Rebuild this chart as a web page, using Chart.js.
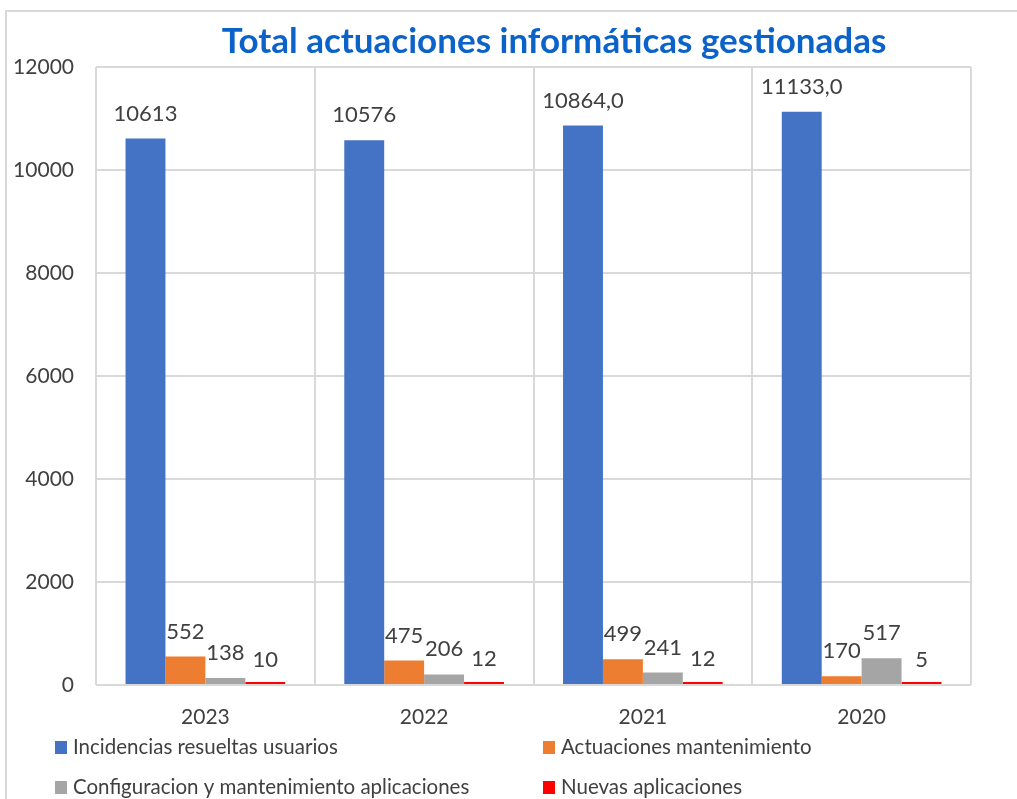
<!DOCTYPE html>
<html><head><meta charset="utf-8">
<script src="https://cdn.jsdelivr.net/npm/chart.js@4.4.1/dist/chart.umd.min.js"></script>
<style>html,body{margin:0;padding:0;background:#fff;overflow:hidden}</style>
</head><body>
<canvas id="c" width="1017" height="799"></canvas>
<script>
const categories = ["2023", "2022", "2021", "2020"];
const seriesNames = ["Incidencias resueltas usuarios", "Actuaciones mantenimiento", "Configuracion y mantenimiento aplicaciones", "Nuevas aplicaciones"];
const incidencias = [10613, 10576, 10864, 11133];
const actuaciones = [552, 475, 499, 170];
const configuracion = [138, 206, 241, 517];
const nuevas = [10, 12, 12, 5];
const incidenciasLabels = ["10613", "10576", "10864,0", "11133,0"];
const yTicks = [0, 2000, 4000, 6000, 8000, 10000, 12000];
const titleText = "Total actuaciones informáticas gestionadas";

const FONT = "Lato, 'Open Sans', sans-serif";
const colors = ["#4472C4", "#ED7D31", "#A5A5A5", "#FF0000"];
const seriesValues = [incidencias, actuaciones, configuracion, nuevas];

const decor = {
  id: 'decor',
  beforeDraw(chart) {
    const ctx = chart.ctx;
    ctx.save();
    ctx.fillStyle = '#fff';
    ctx.fillRect(0, 0, chart.width, chart.height);
    ctx.strokeStyle = '#d9d9d9';
    ctx.lineWidth = 2;
    ctx.beginPath();
    ctx.moveTo(6, 800); ctx.lineTo(6, 11); ctx.lineTo(1017, 11);
    ctx.stroke();
    ctx.restore();
  },
  afterDatasetsDraw(chart) {
    const ctx = chart.ctx;
    ctx.save();
    ctx.fillStyle = '#404040';
    ctx.font = "22px " + FONT;
    ctx.textAlign = 'center';
    ctx.textBaseline = 'middle';
    chart.data.datasets.forEach((ds, di) => {
      const meta = chart.getDatasetMeta(di);
      meta.data.forEach((el, i) => {
        const txt = di === 0 ? incidenciasLabels[i] : String(ds.data[i]);
        ctx.fillText(txt, el.x, chart.scales.y.getPixelForValue(ds.data[i]) - 25);
      });
    });
    ctx.restore();
  },
  afterDraw(chart) {
    const ctx = chart.ctx;
    ctx.save();
    ctx.fillStyle = '#0B63C9';
    ctx.font = "bold 35px " + FONT;
    ctx.textAlign = 'center';
    ctx.textBaseline = 'middle';
    ctx.fillText(titleText, 554, 42);
    const pos = [[55, 747], [543, 747], [55, 787], [543, 787]];
    ctx.font = "20.5px " + FONT;
    ctx.textAlign = 'left';
    ctx.textBaseline = 'middle';
    seriesNames.forEach((n, i) => {
      const [x, y] = pos[i];
      ctx.fillStyle = colors[i];
      ctx.fillRect(x, y - 6, 12, 13);
      ctx.fillStyle = '#404040';
      ctx.fillText(n, x + 18, y);
    });
    ctx.restore();
  }
};

new Chart(document.getElementById('c'), {
  type: 'bar',
  data: {
    labels: categories,
    datasets: seriesNames.map((n, i) => ({
      label: n,
      data: seriesValues[i],
      backgroundColor: colors[i],
      borderWidth: 0,
      minBarLength: 3,
      categoryPercentage: 0.73,
      barPercentage: 1.0
    }))
  },
  options: {
    responsive: false,
    animation: false,
    devicePixelRatio: 1,
    layout: { padding: { left: 0, right: 46, top: 67, bottom: 0 } },
    plugins: { legend: { display: false }, title: { display: false }, tooltip: { enabled: false } },
    scales: {
      x: {
        grid: { color: '#d9d9d9', lineWidth: 2, offset: true, drawTicks: false },
        border: { display: false },
        ticks: { color: '#404040', font: { size: 21, family: FONT }, padding: 20 },
        afterFit(s) { s.height = 114; }
      },
      y: {
        min: 0, max: 12000,
        afterBuildTicks(s) { s.ticks = yTicks.map(v => ({ value: v })); },
        grid: { color: '#d9d9d9', lineWidth: 2, drawTicks: false },
        border: { display: false },
        ticks: { color: '#404040', font: { size: 21, family: FONT }, padding: 22, callback: v => String(v) },
        afterFit(s) { s.width = 96; }
      }
    }
  },
  plugins: [decor]
});
</script>
</body></html>
